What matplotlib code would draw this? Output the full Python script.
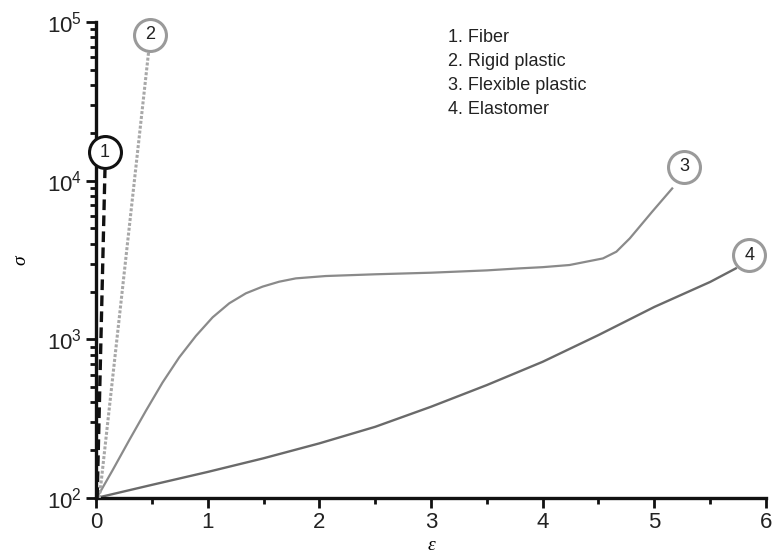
import numpy as np
import matplotlib.pyplot as plt

plt.rcParams['font.family'] = ['Liberation Sans', 'DejaVu Sans']
plt.rcParams['mathtext.fontset'] = 'custom'
plt.rcParams['mathtext.rm'] = 'Liberation Sans'
plt.rcParams['mathtext.default'] = 'regular'

# values (strain, stress)
fiber_x = [0.01, 0.08]
fiber_y = [100, 11700]

rigid_x = [0.03, 0.47]
rigid_y = [100, 64000]

flex_x = [0.0, 0.03, 0.149, 0.298, 0.447, 0.596, 0.745, 0.894, 1.044, 1.193, 1.342,
          1.491, 1.64, 1.789, 2.057, 2.5, 3.0, 3.5, 3.79, 4.0, 4.24, 4.54, 4.66,
          4.78, 4.98, 5.16]
flex_y = [100, 107, 150, 232, 355, 535, 770, 1050, 1376, 1687, 1950,
          2148, 2308, 2422, 2506, 2570, 2630, 2720, 2800, 2850, 2940, 3236, 3566,
          4325, 6364, 8930]

elast_x = [0.0, 0.5, 1.0, 1.5, 2.0, 2.5, 3.0, 3.5, 4.0, 4.5, 5.0, 5.5, 5.73]
elast_y = [100, 121, 146, 178, 221, 281, 376, 515, 722, 1064, 1600, 2300, 2800]

# circled labels
label_names = ['1', '2', '3', '4']
label_x = [0.08, 0.48, 5.27, 5.85]
label_y = [15100, 83000, 12200, 3400]
label_edge = ['#111111', '#9a9a9a', '#9a9a9a', '#9a9a9a']

legend_lines = ['1. Fiber', '2. Rigid plastic', '3. Flexible plastic', '4. Elastomer']

fig = plt.figure(figsize=(7.72, 5.58), dpi=100)
ax = fig.add_axes([0.1244, 0.1075, 0.8678, 0.8531])

ax.plot(flex_x, flex_y, color='#8a8a8a', lw=1.6, zorder=2)
ax.plot(elast_x, elast_y, color='#6a6a6a', lw=1.7, zorder=2)
ax.plot(rigid_x, rigid_y, color='#a8a8a8', lw=2.2, ls=(0, (1, 0.6)), zorder=3)
ax.plot(fiber_x, fiber_y, color='#111111', lw=2.4, ls=(0, (3.2, 1.6)), zorder=3)

for name, x, y, ec in zip(label_names, label_x, label_y, label_edge):
    ax.plot(x, y, marker='o', ms=23, mfc='white', mec=ec, mew=2.2, zorder=5,
            clip_on=False)
    ax.text(x, y, name, ha='center', va='center', fontsize=13, zorder=6,
            color='#222222')

for i, t in enumerate(legend_lines):
    ax.text(0.526, 0.968 - i * 0.0505, t, transform=ax.transAxes, fontsize=13,
            ha='left', va='center', color='#222222')

ax.set_yscale('log')
ax.set_xlim(0, 6)
ax.set_ylim(100, 1e5)
ax.set_xticks(np.arange(0, 7, 1))
ax.set_xticks(np.arange(0.5, 6, 1), minor=True)

for s in ['top', 'right']:
    ax.spines[s].set_visible(False)
for s in ['left', 'bottom']:
    ax.spines[s].set_linewidth(2.4)
    ax.spines[s].set_color('#111111')

ax.tick_params(which='major', direction='out', length=7, width=2, color='#111111',
               labelsize=16, pad=3, labelcolor='#222222')
ax.tick_params(which='minor', direction='out', length=4.5, width=2, color='#111111')

ax.set_xlabel('ε', fontsize=14, family='Liberation Serif', style='italic', labelpad=3)
ax.set_ylabel('σ', fontsize=14, family='Liberation Serif', style='italic', labelpad=13)

fig.savefig('out.png', dpi=100)
